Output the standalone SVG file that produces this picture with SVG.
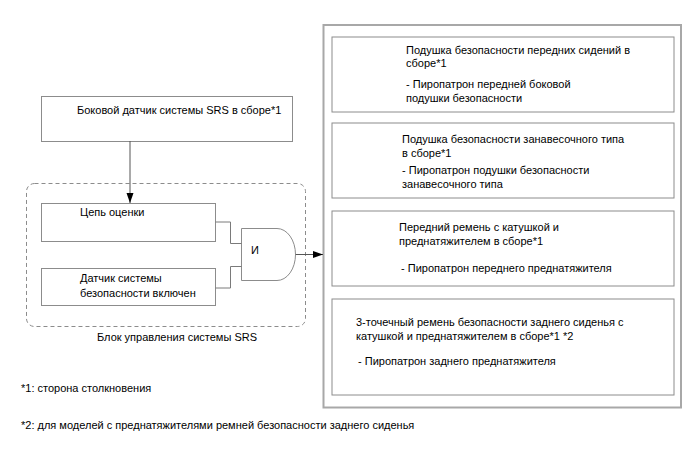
<svg xmlns="http://www.w3.org/2000/svg" width="688" height="463" viewBox="0 0 688 463">
<style>
.box{fill:#fff;stroke:#8c8c8c;stroke-width:1}
.outer{fill:#fff;stroke:#a8a8a8;stroke-width:2}
.dash{fill:none;stroke:#8c8c8c;stroke-width:1;stroke-dasharray:4 3}
.t{font-family:"Liberation Sans",Arial,sans-serif;font-size:11px;fill:#000}
.w{fill:none;stroke:#7a7a7a;stroke-width:1}
.a{fill:none;stroke:#555;stroke-width:1}
</style>
<defs>
<marker id="ah" markerWidth="10" markerHeight="8" refX="10" refY="4" orient="auto" markerUnits="userSpaceOnUse"><path d="M0,0.5 L10,4 L0,7.5 Z" fill="#000"/></marker>
</defs>
<rect width="688" height="463" fill="#fff"/>
<g id="srs-unit">
<rect class="dash" x="26.5" y="183.5" width="279" height="143" rx="8"/>
<text class="t" x="97" y="341">Блок управления системы SRS</text>
</g>
<g id="side-sensor">
<rect class="box" x="41.5" y="96.5" width="251" height="45"/>
<text class="t" x="77" y="114">Боковой датчик системы SRS в сборе*1</text>
</g>
<g id="eval-circuit">
<rect class="box" x="41.5" y="203.5" width="174" height="38"/>
<text class="t" x="80" y="216">Цепь оценки</text>
</g>
<g id="safing-sensor">
<rect class="box" x="41.5" y="268.5" width="174" height="37"/>
<text class="t" x="80" y="282">Датчик системы</text>
<text class="t" x="80" y="297">безопасности включен</text>
</g>
<g id="and-gate">
<path class="box" d="M241.5,228.5 H277 A18.5,26 0 0 1 277,280.5 H241.5 Z"/>
<text class="t" x="251" y="254">И</text>
</g>
<g id="outputs">
<rect class="outer" x="323.5" y="25" width="357.5" height="382.5"/>
<g id="front-airbag">
<rect class="box" x="332" y="37" width="342" height="75"/>
<text class="t" x="406" y="54">Подушка безопасности передних сидений в</text>
<text class="t" x="406" y="67">сборе*1</text>
<text class="t" x="406" y="88">- Пиропатрон передней боковой</text>
<text class="t" x="406" y="102">подушки безопасности</text>
</g>
<g id="curtain-airbag">
<rect class="box" x="332" y="123" width="342" height="75"/>
<text class="t" x="402" y="143">Подушка безопасности занавесочного типа</text>
<text class="t" x="402" y="157">в сборе*1</text>
<text class="t" x="402" y="174">- Пиропатрон подушки безопасности</text>
<text class="t" x="402" y="188">занавесочного типа</text>
</g>
<g id="front-belt">
<rect class="box" x="332" y="211" width="342" height="75"/>
<text class="t" x="399" y="231">Передний ремень с катушкой и</text>
<text class="t" x="399" y="245">преднатяжителем в сборе*1</text>
<text class="t" x="401" y="272">- Пиропатрон переднего преднатяжителя</text>
</g>
<g id="rear-belt">
<rect class="box" x="332" y="299" width="342" height="96"/>
<text class="t" x="356" y="326">3-точечный ремень безопасности заднего сиденья с</text>
<text class="t" x="356" y="340">катушкой и преднатяжителем в сборе*1 *2</text>
<text class="t" x="358" y="365">- Пиропатрон заднего преднатяжителя</text>
</g>
</g>
<g id="connectors">
<line class="a" x1="130" y1="141" x2="130" y2="203" marker-end="url(#ah)"/>
<polyline class="w" points="215.5,222 230.5,222 230.5,243.5 241.5,243.5"/>
<polyline class="w" points="241.5,266.5 230.5,266.5 230.5,288 215.5,288"/>
<line class="a" x1="295.5" y1="254.5" x2="323" y2="254.5" marker-end="url(#ah)"/>
</g>
<g id="notes">
<text class="t" x="21" y="392">*1: сторона столкновения</text>
<text class="t" x="21" y="429">*2: для моделей с преднатяжителями ремней безопасности заднего сиденья</text>
</g>
</svg>
